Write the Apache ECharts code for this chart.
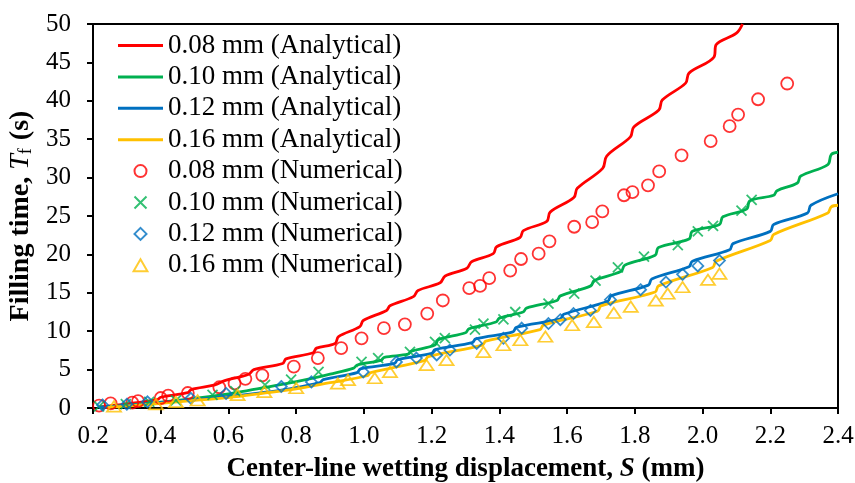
<!DOCTYPE html>
<html>
<head>
<meta charset="utf-8">
<script src="https://cdn.jsdelivr.net/npm/echarts@6.0.0/dist/echarts.min.js"></script>
<style>
html,body{margin:0;padding:0;background:#fff;}
#chart{width:855px;height:483px;}
</style>
</head>
<body>
<div id="chart"></div>
<script>
// ---- data (S in mm, T in s) ----
var xTicks = [0.2,0.4,0.6,0.8,1.0,1.2,1.4,1.6,1.8,2.0,2.2,2.4];
var yTicks = [0,5,10,15,20,25,30,35,40,45,50];
var seriesNames = [
  '0.08 mm (Analytical)','0.10 mm (Analytical)','0.12 mm (Analytical)','0.16 mm (Analytical)',
  '0.08 mm (Numerical)','0.10 mm (Numerical)','0.12 mm (Numerical)','0.16 mm (Numerical)'
];
var colors = ['#FF0000','#00B050','#0070C0','#FFC000'];

var analytical008 = [[0.22,0.15],[0.30,0.55],[0.39,1.1],[0.40,1.4],[0.48,2.0],[0.49,2.4],[0.56,3.0],[0.585,3.5],[0.66,4.4],[0.675,5.0],[0.76,5.8],[0.77,6.4],[0.85,7.2],[0.86,7.8],[0.915,8.4],[0.925,9.3],[0.988,10.6],[0.998,11.4],[1.067,12.7],[1.077,13.3],[1.146,14.5],[1.16,15.3],[1.225,16.3],[1.24,17.2],[1.304,18.2],[1.318,19.05],[1.382,20.1],[1.392,21.0],[1.461,22.2],[1.471,23.1],[1.54,24.3],[1.55,25.5],[1.62,27.4],[1.63,28.6],[1.705,31.2],[1.717,32.8],[1.787,35.3],[1.797,36.6],[1.871,38.8],[1.881,40.1],[1.95,42.3],[1.96,43.6],[2.034,45.7],[2.04,47.3],[2.10,48.8],[2.118,50.0]];
var analytical010 = [[0.22,0.1],[0.3,0.35],[0.4,0.75],[0.5,1.25],[0.6,1.85],[0.66,2.3],[0.75,3.0],[0.85,3.9],[0.9,4.4],[0.97,5.2],[0.98,5.6],[1.05,6.2],[1.06,6.6],[1.13,7.0],[1.14,7.4],[1.21,8.2],[1.22,8.9],[1.30,9.8],[1.31,10.3],[1.39,11.2],[1.40,11.7],[1.47,12.5],[1.48,13.0],[1.57,14.0],[1.58,14.6],[1.67,15.9],[1.68,16.6],[1.76,17.8],[1.77,18.6],[1.86,19.9],[1.87,20.9],[1.96,22.0],[1.97,23.0],[2.05,23.9],[2.06,24.9],[2.13,25.9],[2.14,27.0],[2.21,27.7],[2.22,28.3],[2.28,29.3],[2.29,30.2],[2.37,31.7],[2.38,33.0],[2.4,33.3]];
var analytical012 = [[0.22,0.1],[0.3,0.3],[0.4,0.7],[0.5,1.1],[0.6,1.5],[0.7,2.0],[0.78,2.5],[0.87,3.3],[0.88,3.7],[0.98,4.6],[0.99,5.1],[1.09,5.8],[1.10,6.3],[1.20,7.1],[1.21,7.6],[1.32,8.5],[1.33,9.0],[1.44,9.9],[1.45,10.5],[1.58,11.6],[1.59,12.2],[1.72,13.9],[1.73,14.6],[1.84,16.0],[1.85,16.8],[1.96,18.4],[1.97,19.1],[2.08,20.6],[2.09,21.4],[2.20,23.0],[2.21,23.9],[2.31,25.4],[2.32,26.4],[2.4,27.9]];
var analytical016 = [[0.24,0.05],[0.3,0.25],[0.4,0.6],[0.5,1.0],[0.6,1.35],[0.7,1.9],[0.8,2.5],[0.9,3.3],[1.01,4.2],[1.02,4.6],[1.18,6.2],[1.19,6.7],[1.35,8.2],[1.36,8.7],[1.52,10.2],[1.53,10.8],[1.69,12.6],[1.70,13.3],[1.86,15.1],[1.87,15.9],[2.03,18.3],[2.04,19.1],[2.20,21.8],[2.21,22.6],[2.37,25.4],[2.38,26.2],[2.4,26.4]];

var numerical008 = [[0.218,0.3],[0.252,0.6],[0.316,0.7],[0.333,0.9],[0.40,1.3],[0.422,1.6],[0.48,1.95],[0.573,2.7],[0.618,3.2],[0.65,3.8],[0.70,4.25],[0.793,5.4],[0.864,6.5],[0.933,7.8],[0.993,9.07],[1.059,10.4],[1.121,10.9],[1.187,12.3],[1.233,14.0],[1.311,15.6],[1.343,15.9],[1.37,16.9],[1.432,17.9],[1.464,19.4],[1.516,20.1],[1.548,21.7],[1.621,23.6],[1.674,24.2],[1.704,25.6],[1.768,27.7],[1.793,28.1],[1.839,29.0],[1.872,30.8],[1.938,32.9],[2.024,34.75],[2.08,36.7],[2.105,38.2],[2.164,40.2],[2.25,42.25]];
var numerical010 = [[0.218,0.2],[0.297,0.5],[0.366,0.8],[0.445,1.0],[0.553,1.7],[0.62,2.2],[0.708,3.0],[0.785,3.7],[0.866,4.7],[0.993,6.0],[1.042,6.5],[1.136,7.3],[1.21,8.6],[1.239,9.1],[1.328,10.2],[1.353,11.0],[1.412,11.55],[1.447,12.5],[1.545,13.6],[1.621,14.9],[1.684,16.6],[1.75,18.3],[1.827,19.7],[1.927,21.2],[1.986,23.0],[2.031,23.7],[2.115,25.7],[2.145,27.1]];
var numerical012 = [[0.228,0.4],[0.30,0.5],[0.361,0.8],[0.489,1.26],[0.593,1.9],[0.756,2.8],[0.845,3.4],[0.998,4.7],[1.096,6.0],[1.155,6.5],[1.215,6.9],[1.254,7.55],[1.333,8.4],[1.412,9.07],[1.466,10.4],[1.545,11.0],[1.58,11.5],[1.619,12.3],[1.669,12.7],[1.728,14.1],[1.817,15.4],[1.892,16.4],[1.941,17.4],[1.986,18.5],[2.05,19.2]];
var numerical016 = [[0.262,0.2],[0.386,0.5],[0.445,0.8],[0.509,1.0],[0.627,1.7],[0.706,2.1],[0.80,2.6],[0.923,3.2],[0.953,3.65],[1.032,3.9],[1.077,4.7],[1.185,5.6],[1.244,6.25],[1.353,7.3],[1.412,8.2],[1.462,8.85],[1.536,9.3],[1.615,10.8],[1.679,11.2],[1.738,12.4],[1.788,13.2],[1.862,14.0],[1.897,14.9],[1.941,15.75],[2.016,16.7],[2.05,17.5]];

var analyticalSets = [analytical008, analytical010, analytical012, analytical016];
var numericalSets = [numerical008, numerical010, numerical012, numerical016];
var numericalSymbols = [
  'circle',
  'path://M0,0 L10,10 M10,0 L0,10',
  'path://M5,0 L10,5 L5,10 L0,5 Z',
  'path://M6,0 L12,10.4 L0,10.4 Z'
];
var numericalSizes = [[12,12],[10,10],[11,11],[14,12]];
var lineIcon = 'path://M0,0 L45,0 L45,3 L0,3 Z';

var FONT = '"Liberation Serif", "Times New Roman", serif';
var chart = echarts.init(document.getElementById('chart'), null, {renderer: 'canvas'});

var series = [];
analyticalSets.forEach(function (d, i) {
  series.push({
    name: seriesNames[i], type: 'line', data: d, symbol: 'none', showSymbol: false,
    smooth: 0.35, z: 2,
    lineStyle: {color: colors[i], width: 2.8},
    itemStyle: {color: colors[i]}
  });
});
numericalSets.forEach(function (d, i) {
  series.push({
    name: seriesNames[4 + i], type: 'scatter', data: d, z: 3,
    symbol: numericalSymbols[i], symbolSize: numericalSizes[i], symbolKeepAspect: true,
    itemStyle: {color: 'rgba(255,255,255,0)', borderColor: colors[i], borderWidth: 1.8}
  });
});

var legendData = seriesNames.map(function (n, i) {
  return i < 4 ? {name: n, icon: lineIcon} : {name: n, icon: numericalSymbols[i - 4]};
});

chart.setOption({
  animation: false,
  backgroundColor: '#fff',
  textStyle: {fontFamily: FONT},
  grid: {left: 93, right: 17, top: 24, bottom: 75, show: true, borderColor: '#000', borderWidth: 2,
    containLabel: false, outerBoundsMode: 'none'},
  legend: {
    orient: 'vertical', left: 118, top: 32, padding: 0,
    itemWidth: 45, itemHeight: 12, itemGap: 4.4,
    data: legendData,
    textStyle: {fontFamily: FONT, fontSize: 27, color: '#000', lineHeight: 27, padding: [0,0,0,0]}
  },
  xAxis: {
    type: 'value', min: 0.2, max: 2.4, interval: 0.2,
    name: '{b|Center-line wetting displacement, }{bi|S}{b| (mm)}',
    nameLocation: 'middle', nameGap: 48,
    nameTextStyle: {rich: {
      b: {fontFamily: FONT, fontSize: 27, fontWeight: 'bold', color: '#000'},
      bi: {fontFamily: FONT, fontSize: 27, fontWeight: 'bold', fontStyle: 'italic', color: '#000'}
    }},
    axisLine: {show: true, onZero: false, lineStyle: {color: '#000', width: 2}},
    axisTick: {show: true, inside: false, length: 6, lineStyle: {color: '#000', width: 2}},
    axisLabel: {fontFamily: FONT, fontSize: 25, color: '#000', margin: 16,
      formatter: function (v) { return v.toFixed(1); }},
    splitLine: {show: false}
  },
  yAxis: {
    type: 'value', min: 0, max: 50, interval: 5,
    name: '{b|Filling time, }{i|T}{sub|f}{b| (s)}',
    nameLocation: 'middle', nameGap: 58, nameRotate: 90,
    nameTextStyle: {rich: {
      b: {fontFamily: FONT, fontSize: 28, fontWeight: 'bold', color: '#000'},
      i: {fontFamily: FONT, fontSize: 28, fontStyle: 'italic', color: '#000'},
      sub: {fontFamily: FONT, fontSize: 18, color: '#000', verticalAlign: 'bottom', padding: [11,1,0,0]}
    }},
    axisLine: {show: true, onZero: false, lineStyle: {color: '#000', width: 2}},
    axisTick: {show: true, inside: false, length: 6, lineStyle: {color: '#000', width: 2}},
    axisLabel: {fontFamily: FONT, fontSize: 25, color: '#000', margin: 22},
    splitLine: {show: false}
  },
  series: series
});
</script>
</body>
</html>
